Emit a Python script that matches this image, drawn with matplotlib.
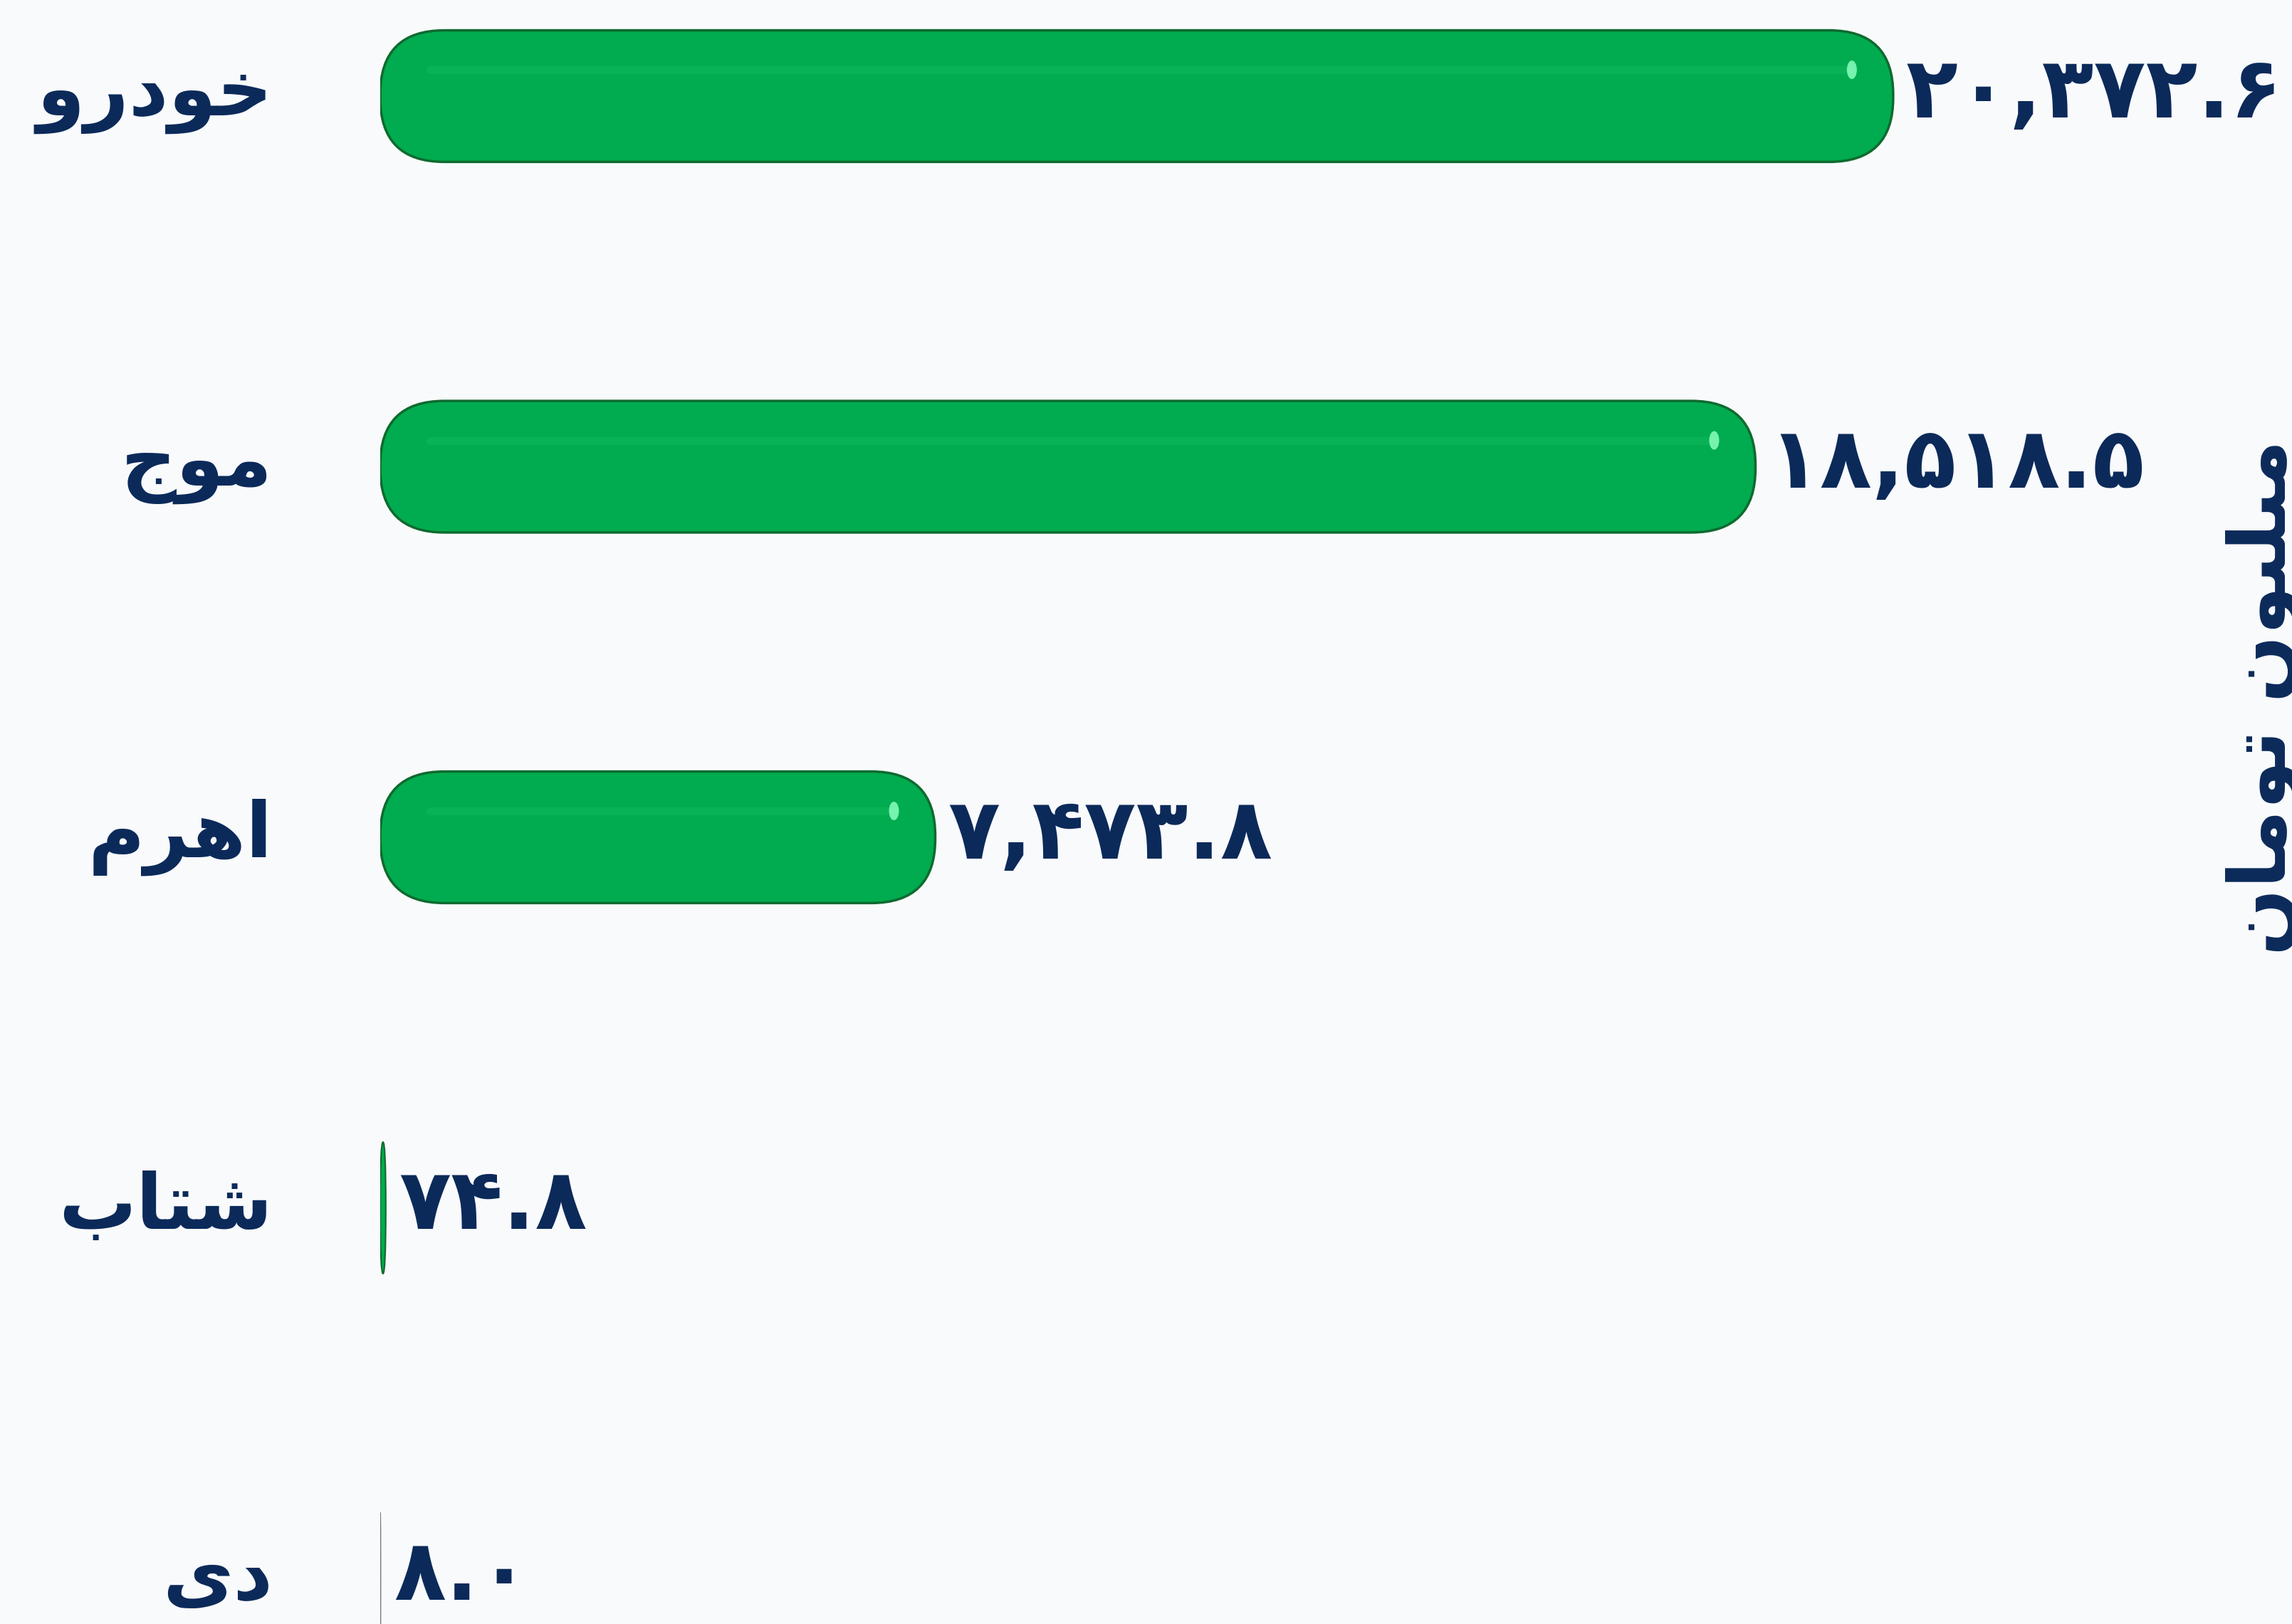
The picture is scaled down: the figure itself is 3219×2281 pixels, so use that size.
import matplotlib
matplotlib.use('Agg')
import matplotlib.pyplot as plt
from matplotlib.patches import FancyBboxPatch, Ellipse
from matplotlib.transforms import offset_copy, blended_transform_factory

# ---------------- data ----------------
categories = ['خودرو', 'موج', 'اهرم', 'شتاب', 'دی']
values = [20372.6, 18518.5, 7473.8, 74.8, 8.0]
value_labels = ['۲۰,۳۷۲.۶', '۱۸,۵۱۸.۵', '۷,۴۷۳.۸', '۷۴.۸', '۸.۰']
axis_title = 'میلیون تومان'

# ---------------- arabic shaping (presentation forms) ----------------
FORMS = {  # isolated, final, initial, medial
    'ا': ('\uFE8D', '\uFE8E', None, None),
    'ب': ('\uFE8F', '\uFE90', '\uFE91', '\uFE92'),
    'ت': ('\uFE95', '\uFE96', '\uFE97', '\uFE98'),
    'ج': ('\uFE9D', '\uFE9E', '\uFE9F', '\uFEA0'),
    'خ': ('\uFEA5', '\uFEA6', '\uFEA7', '\uFEA8'),
    'د': ('\uFEA9', '\uFEAA', None, None),
    'ر': ('\uFEAD', '\uFEAE', None, None),
    'ش': ('\uFEB5', '\uFEB6', '\uFEB7', '\uFEB8'),
    'ل': ('\uFEDD', '\uFEDE', '\uFEDF', '\uFEE0'),
    'م': ('\uFEE1', '\uFEE2', '\uFEE3', '\uFEE4'),
    'ن': ('\uFEE5', '\uFEE6', '\uFEE7', '\uFEE8'),
    'ه': ('\uFEE9', '\uFEEA', '\uFEEB', '\uFEEC'),
    'و': ('\uFEED', '\uFEEE', None, None),
    'ی': ('\uFEEF', '\uFEF0', '\uFEF3', '\uFEF4'),
}


def shape(text):
    chars = list(text)
    out = []
    for i, c in enumerate(chars):
        if c not in FORMS:
            out.append(c)
            continue
        f = FORMS[c]
        prev = chars[i - 1] if i > 0 else None
        nxt = chars[i + 1] if i + 1 < len(chars) else None
        jp = prev in FORMS and FORMS[prev][2] is not None
        jn = nxt in FORMS and f[2] is not None
        if jp and jn:
            g = f[3]
        elif jp:
            g = f[1]
        elif jn:
            g = f[2]
        else:
            g = f[0]
        out.append(g)
    return ''.join(reversed(out))


# ---------------- figure ----------------
W_PX, H_PX = 3219, 2281
DPI = 100
TEXT = '#0B2A5A'
GREEN = '#00AC4F'
EDGE = '#0F6A2F'
BG = '#F9FAFC'

plt.rcParams['font.family'] = ['DejaVu Sans']
fig = plt.figure(figsize=(W_PX / DPI, H_PX / DPI), dpi=DPI)
fig.patch.set_facecolor(BG)

ax_left_px = 534
ax = fig.add_axes([ax_left_px / W_PX, 0, 1 - ax_left_px / W_PX, 1])
ax.set_facecolor('none')

px_per_unit = 0.1043
xmax = (W_PX - ax_left_px) / px_per_unit
ax.set_xlim(0, xmax)
spacing_px = 520.5
top_center_px = 135
ymin = -top_center_px / spacing_px
ax.set_ylim(ymin + (H_PX / spacing_px), ymin)

ypos = list(range(len(categories)))
bar_h = 0.355
bars = ax.barh(ypos, values, height=bar_h, color=GREEN)

px_x = (W_PX - ax_left_px) / xmax
px_y = spacing_px
R = 90.0
for b in bars:
    x0, y0 = b.get_x(), b.get_y()
    w, h = b.get_width(), b.get_height()
    b.set_visible(False)
    wpx = w * px_x
    rx = min(R, wpx / 2.0)
    ry = min(R, h * px_y / 2.0 - 1)
    r_data = rx / px_x
    aspect = (ry / px_y) / r_data
    lw = 2.5 if wpx > 20 else (1.5 if wpx > 3 else 0.8)
    ec = EDGE if wpx > 3 else '#6b7a70'
    p = FancyBboxPatch((x0, y0), w, h,
                       boxstyle=f'round,pad=0,rounding_size={r_data}',
                       mutation_aspect=aspect, facecolor=GREEN,
                       edgecolor=ec, linewidth=lw, zorder=2)
    ax.add_patch(p)
    if wpx > 200:
        yl = y0 + 0.30 * h  # inverted axis: y0 is the visual top edge
        ax.plot([x0 + 70 / px_x, x0 + w - 60 / px_x], [yl, yl],
                color='#14BA5F', lw=8, alpha=0.45, solid_capstyle='round', zorder=3)
        ax.add_patch(Ellipse((x0 + w - 58 / px_x, yl), 14 / px_x, 26 / px_y,
                             facecolor='#8BFFBF', edgecolor='none', alpha=0.85, zorder=4))

# value labels
off = offset_copy(ax.transData, fig=fig, x=18, y=3, units='dots')
for yi, v, lab in zip(ypos, values, value_labels):
    ax.text(v, yi, lab, transform=off, ha='left', va='center', fontsize=86,
            fontweight='bold', color=TEXT, zorder=5)

# category labels (right aligned at fixed pixel position left of the axis)
lab_tr = offset_copy(blended_transform_factory(ax.transAxes, ax.transData),
                     fig=fig, x=-(ax_left_px - 383), y=0, units='dots')
for yi, c in zip(ypos, categories):
    ax.text(0, yi, shape(c), transform=lab_tr, ha='right', va='center',
            fontsize=78, fontweight='bold', color=TEXT)

ax.set_yticks([])
ax.set_xticks([])
for s in ax.spines.values():
    s.set_visible(False)

# rotated axis title on the right (partly outside, as in the original)
fig.text(3210 / W_PX, 1 - 980 / H_PX, shape(axis_title), rotation=90,
         rotation_mode='anchor', ha='center', va='baseline', fontsize=80,
         fontweight='bold', color=TEXT)

fig.savefig('out.png', dpi=DPI, facecolor=BG)
